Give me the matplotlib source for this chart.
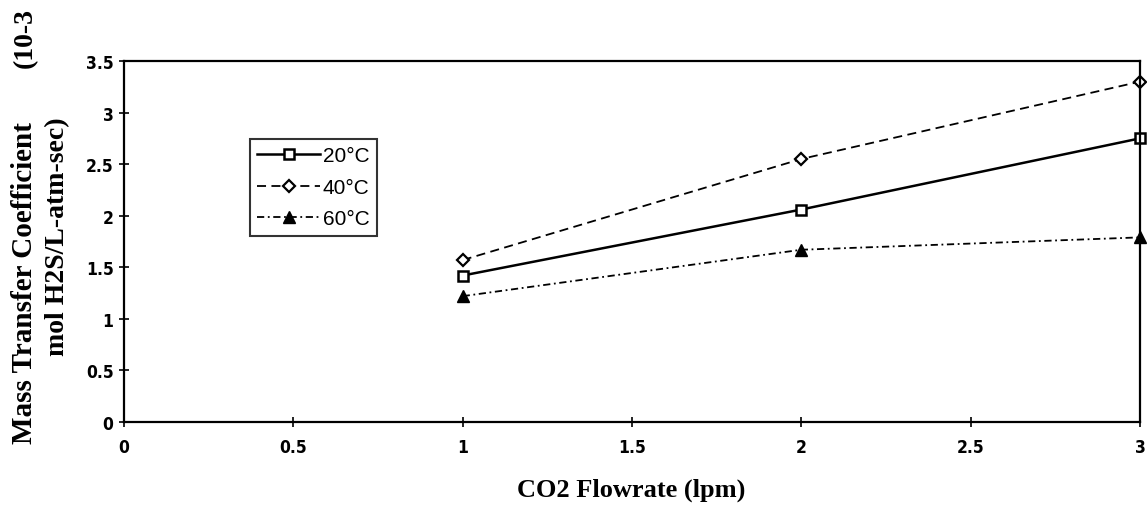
import matplotlib
matplotlib.use('Agg')
import matplotlib.pyplot as plt

flow = [1, 2, 3]
k_20 = [1.42, 2.06, 2.75]
k_40 = [1.57, 2.55, 3.30]
k_60 = [1.22, 1.67, 1.79]
labels = ['20°C', '40°C', '60°C']
xticks = [0, 0.5, 1, 1.5, 2, 2.5, 3]
yticks = [0, 0.5, 1, 1.5, 2, 2.5, 3, 3.5]

W, H = 1147, 510
fig = plt.figure(figsize=(W / 100, H / 100), dpi=100)
ax = fig.add_axes([124 / W, 1 - 423 / H, (1140 - 124) / W, (423 - 62) / H])

ax.plot(flow, k_20, color='black', lw=1.8, ls='-', marker='s', ms=6.5,
        mfc='white', mec='black', mew=1.8, label=labels[0], clip_on=False)
ax.plot(flow, k_40, color='black', lw=1.3, ls=(0, (5, 3)), marker='D', ms=6,
        mfc='white', mec='black', mew=1.6, label=labels[1], clip_on=False)
ax.plot(flow, k_60, color='black', lw=1.3, ls=(0, (4, 2, 1, 2)), marker='^', ms=8,
        mfc='black', mec='black', label=labels[2], clip_on=False)

ax.set_xlim(0, 3)
ax.set_ylim(0, 3.5)
ax.set_xticks(xticks)
ax.set_xticklabels([f'{v:g}' for v in xticks])
ax.set_yticks(yticks)
ax.set_yticklabels([f'{v:g}' for v in yticks])

for lab in ax.get_xticklabels() + ax.get_yticklabels():
    lab.set_family('DejaVu Sans')
    lab.set_stretch('condensed')
    lab.set_fontweight('bold')
    lab.set_fontsize(12.5)
ax.tick_params(direction='inout', length=7, width=1.2, color='black')
ax.tick_params(axis='x', pad=8)
ax.tick_params(axis='y', pad=4)
for s in ax.spines.values():
    s.set_linewidth(1.6)

leg = ax.legend(loc='upper left', bbox_to_anchor=((250 - 124) / 1016, 1 - (140 - 62) / 361),
                frameon=True, fancybox=False, edgecolor='black', handlelength=3.0,
                handletextpad=0.15, borderpad=0.35, borderaxespad=0, labelspacing=0.6,
                prop={'family': ['Liberation Sans', 'DejaVu Sans'], 'size': 15})
leg.get_frame().set_linewidth(1.5)

serif = ['Liberation Serif', 'DejaVu Serif']
fig.text(631 / W, 1 - 490 / H, 'CO2 Flowrate (lpm)', family=serif,
         fontweight='bold', fontsize=19, ha='center', va='center')
fig.text(25 / W, 1 - 283 / H, 'Mass Transfer Coefficient',
         family=serif, fontweight='bold', fontsize=21, rotation=90,
         ha='center', va='center')
fig.text(25 / W, 1 - 38 / H, '(10-3',
         family=serif, fontweight='bold', fontsize=20, rotation=90,
         ha='center', va='center')
fig.text(58 / W, 1 - 237 / H, 'mol H2S/L-atm-sec)', family=serif,
         fontweight='bold', fontsize=20, rotation=90, ha='center', va='center')

fig.savefig('out.png', dpi=100)
